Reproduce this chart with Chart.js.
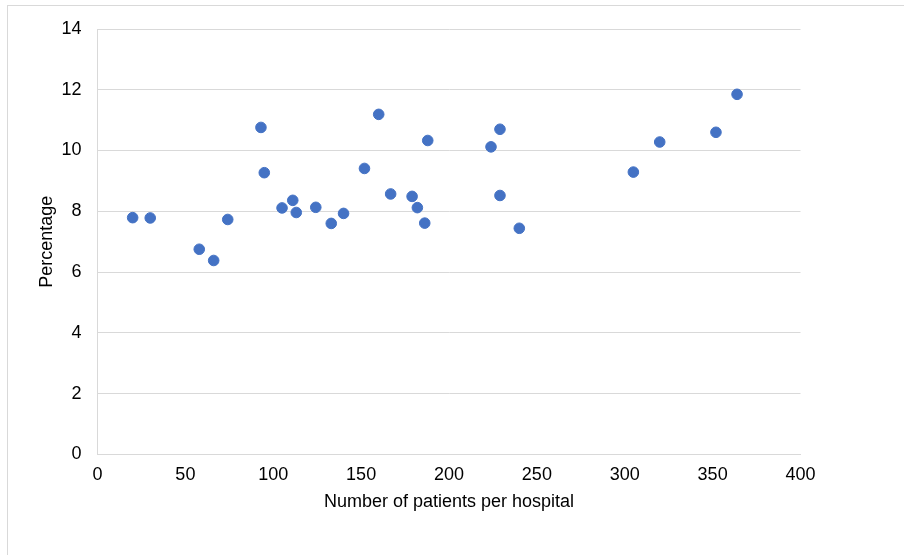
<!DOCTYPE html>
<html>
<head>
<meta charset="utf-8">
<script src="https://cdn.jsdelivr.net/npm/chart.js@4"></script>
<style>
  html, body { margin: 0; padding: 0; background: #fff; }
  #wrap { position: relative; width: 904px; height: 555px; overflow: hidden; }
  #frame { position: absolute; left: 7px; top: 5px; width: 1000px; height: 1000px; border: 1px solid #d9d9d9; }
  #grafico { position: absolute; left: 0; top: 0; }
</style>
</head>
<body>
<div id="wrap">
  <div id="frame"></div>
  <canvas id="grafico" width="904" height="555"></canvas>
</div>
<script>
// pacientes por hospital (x) y porcentaje (y)
var pacientes = [20, 30, 57.9, 66.1, 74.1, 93, 94.9, 105, 111.1, 113.1, 124.2, 133, 140, 151.9, 160,
  166.8, 179, 182, 186.2, 187.9, 223.9, 229, 229, 240, 304.9, 319.9, 351.9, 363.9];
var porcentaje = [7.79, 7.78, 6.75, 6.38, 7.73, 10.76, 9.27, 8.11, 8.36, 7.96, 8.13, 7.6, 7.93, 9.41, 11.19,
  8.57, 8.49, 8.12, 7.61, 10.33, 10.12, 10.7, 8.52, 7.44, 9.29, 10.28, 10.6, 11.85];

var puntos = pacientes.map(function(x, i){ return {x: x, y: porcentaje[i]}; });

Chart.defaults.font.family = '"Liberation Sans", Arial, sans-serif';
Chart.defaults.font.size = 18;
Chart.defaults.color = '#000';

var ctx = document.getElementById('grafico').getContext('2d');
var grafico = new Chart(ctx, {
  type: 'scatter',
  data: {
    datasets: [{
      label: 'Percentage',
      data: puntos,
      backgroundColor: '#4472C4',
      borderColor: '#4472C4',
      pointRadius: 5.3,
      pointHoverRadius: 5.3
    }]
  },
  options: {
    responsive: false,
    animation: false,
    layout: { padding: { left: 36, top: 29, right: 103.5, bottom: 42.5 } },
    plugins: {
      legend: { display: false },
      tooltip: { enabled: false }
    },
    scales: {
      x: {
        type: 'linear',
        min: 0,
        max: 400,
        ticks: { stepSize: 50, padding: 10 },
        grid: { display: false, drawTicks: false },
        border: { display: true, color: '#d9d9d9' },
        title: { display: true, text: 'Number of patients per hospital', padding: { top: 5, bottom: 0 } },
        afterFit: function(scale){ scale.height = 58.2; }
      },
      y: {
        min: 0,
        max: 14,
        ticks: { stepSize: 2, padding: 16 },
        grid: { color: '#d9d9d9', drawTicks: false },
        border: { display: true, color: '#d9d9d9' },
        title: { display: true, text: 'Percentage', padding: { top: 0, bottom: 0 } },
        afterFit: function(scale){ scale.width = 61.5; }
      }
    }
  }
});
</script>
</body>
</html>
